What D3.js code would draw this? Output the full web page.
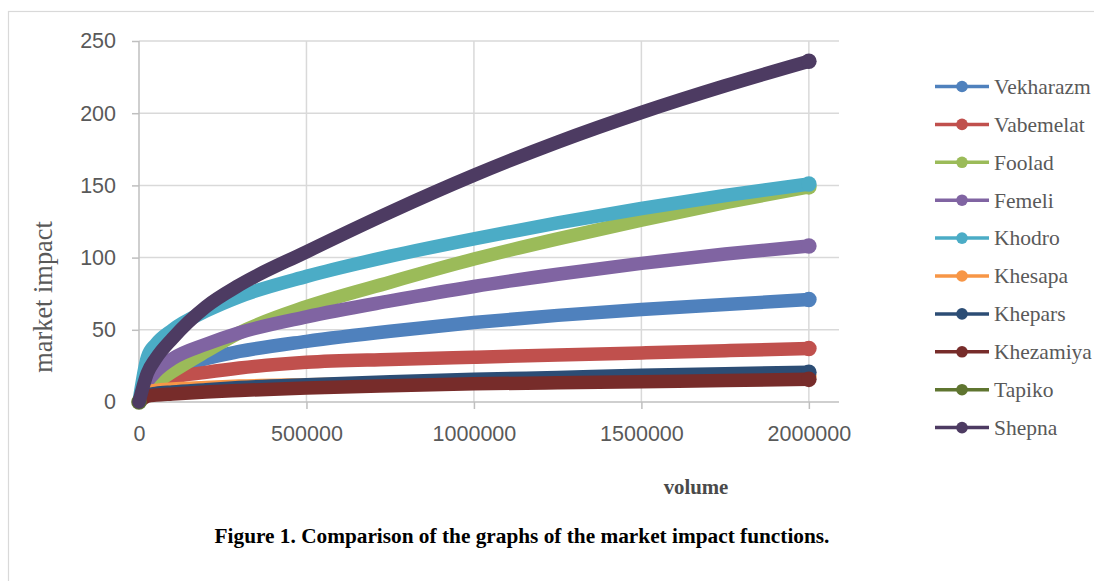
<!DOCTYPE html>
<html>
<head>
<meta charset="utf-8">
<script src="https://cdn.jsdelivr.net/npm/d3@7"></script>
<style>
  body { margin: 0; background: #ffffff; }
  svg { display: block; }
</style>
</head>
<body>
<svg id="chart" width="1094" height="581"></svg>
<script>
// Trade volume at which each impact function is sampled
const volume = [0, 25000, 50000, 100000, 200000, 300000, 500000, 750000, 1000000, 1250000, 1500000, 1750000, 2000000];

// Market impact per company, one array per series (null = no value plotted)
const vekharazm = [0, 10, 15, 22, 30, 35, 42, 49, 55, 60, 64, 67.5, 71];
const vabemelat = [0, 9, 13, 17, 20.5, 23.5, 27.5, 29.5, 31, 32.5, 34, 35.5, 37];
const foolad    = [0, 8, 13, 21, 35, 48, 66, 83, 99, 113, 126, 138, 149];
const femeli    = [0, 14, 21, 30, 40, 48, 59, 70, 80, 88.5, 96, 102.5, 108];
const khodro    = [0, 31, 40, 50, 63, 73, 87, 101, 113, 124, 134, 143, 151];
const khesapa   = [0, 7, 8, 9, 10, 11, 12, 13, 14, 15, 16, 17, 18];
const khepars   = [0, 5, 6, 7, 8.5, 10, 12, 14, 15.7, 17, 18.5, 19.6, 20.6];
const khezamiya = [0, 4, 4.8, 5.6, 7, 8, 9.7, 11.3, 12.6, 13.3, 14, 14.9, 15.7];
const tapiko    = [0, null, null, null, null, null, null, null, null, null, null, null, null];
const shepna    = [0, 20, 30, 44, 66, 81, 104, 131.5, 157, 180, 200.5, 219, 236];

const seriesNames = ["Vekharazm", "Vabemelat", "Foolad", "Femeli", "Khodro",
                     "Khesapa", "Khepars", "Khezamiya", "Tapiko", "Shepna"];
const seriesValues = [vekharazm, vabemelat, foolad, femeli, khodro,
                      khesapa, khepars, khezamiya, tapiko, shepna];
const seriesColors = ["#4f81bd", "#c0504d", "#9bbb59", "#8064a2", "#4bacc6",
                      "#f79646", "#2c4d75", "#772c2a", "#5f7530", "#4d3b62"];

const xTicks = [0, 500000, 1000000, 1500000, 2000000];
const yTicks = [0, 50, 100, 150, 200, 250];

const xAxisTitle = "volume";
const yAxisTitle = "market impact";
const caption = "Figure 1. Comparison of the graphs of the market impact functions.";

const svg = d3.select("#chart");
const gridColor = "#d9d9d9";
const axisColor = "#bfbfbf";
const labelColor = "#595959";
const serif = "'Liberation Serif', 'Times New Roman', serif";

// Outer frame
svg.append("rect")
  .attr("x", 8.5).attr("y", 11.5)
  .attr("width", 1100).attr("height", 600)
  .attr("fill", "#ffffff")
  .attr("stroke", gridColor).attr("stroke-width", 1.2);

const plot = { left: 139, right: 839, top: 41, bottom: 402 };

const x = d3.scaleLinear().domain([0, 2090000]).range([plot.left, plot.right]);
const y = d3.scaleLinear().domain([0, 250]).range([plot.bottom, plot.top]);

// Gridlines
const grid = svg.append("g");
grid.selectAll("line.h").data(yTicks.filter(d => d > 0)).join("line")
  .attr("x1", plot.left).attr("x2", plot.right)
  .attr("y1", d => y(d)).attr("y2", d => y(d))
  .attr("stroke", gridColor).attr("stroke-width", 1.5);
grid.selectAll("line.v").data(xTicks.filter(d => d > 0)).join("line")
  .attr("x1", d => x(d)).attr("x2", d => x(d))
  .attr("y1", plot.top).attr("y2", plot.bottom)
  .attr("stroke", gridColor).attr("stroke-width", 1.5);

// Axes
const yAxis = svg.append("g")
  .attr("transform", `translate(${plot.left},0)`)
  .call(d3.axisLeft(y).tickValues(yTicks).tickSize(7).tickPadding(16).tickFormat(d3.format("d")));
const xAxis = svg.append("g")
  .attr("transform", `translate(0,${plot.bottom})`)
  .call(d3.axisBottom(x).tickValues(xTicks).tickSize(7).tickPadding(17).tickFormat(d3.format("d")));

[xAxis, yAxis].forEach(g => {
  g.select(".domain").remove();
  g.selectAll(".tick line").attr("stroke", axisColor).attr("stroke-width", 1.5);
  g.selectAll(".tick text")
    .attr("fill", labelColor)
    .style("font-family", "'Liberation Sans', Arial, sans-serif")
    .style("font-size", "21.5px");
});
svg.append("line")
  .attr("x1", plot.left).attr("x2", plot.left)
  .attr("y1", plot.top).attr("y2", plot.bottom)
  .attr("stroke", axisColor).attr("stroke-width", 1.5);
svg.append("line")
  .attr("x1", plot.left).attr("x2", plot.right)
  .attr("y1", plot.bottom).attr("y2", plot.bottom)
  .attr("stroke", axisColor).attr("stroke-width", 1.5);

// Series lines: heavy strokes with a round marker on the final plotted point
const line = d3.line()
  .defined(d => d !== null)
  .x((d, i) => x(volume[i]))
  .y(d => y(d))
  .curve(d3.curveMonotoneX);

const series = svg.append("g").selectAll("g")
  .data(seriesValues.map((vals, i) => {
    let last = vals.length - 1;
    while (last > 0 && vals[last] === null) last--;
    return { name: seriesNames[i], vals, color: seriesColors[i], last };
  }))
  .join("g");

series.append("path")
  .attr("d", d => line(d.vals))
  .attr("fill", "none")
  .attr("stroke", d => d.color)
  .attr("stroke-width", 13.5)
  .attr("stroke-linecap", "round")
  .attr("stroke-linejoin", "round");

series.append("circle")
  .attr("cx", d => x(volume[d.last]))
  .attr("cy", d => y(d.vals[d.last]))
  .attr("r", 7.8)
  .attr("fill", d => d.color);

// Legend
const legend = svg.append("g").selectAll("g")
  .data(seriesNames)
  .join("g")
  .attr("transform", (d, i) => `translate(0,${86.5 + i * 37.9})`);
legend.append("line")
  .attr("x1", 935).attr("x2", 989).attr("y1", 0).attr("y2", 0)
  .attr("stroke", (d, i) => seriesColors[i]).attr("stroke-width", 3.5);
legend.append("circle")
  .attr("cx", 962).attr("cy", 0).attr("r", 5.8)
  .attr("fill", (d, i) => seriesColors[i]);
legend.append("text")
  .attr("x", 994).attr("y", 7.3)
  .attr("fill", labelColor)
  .style("font-family", serif)
  .style("font-size", "21.5px")
  .text(d => d);

// Axis titles and caption
svg.append("text")
  .attr("transform", "translate(52,297) rotate(-90)")
  .attr("text-anchor", "middle")
  .attr("fill", labelColor)
  .style("font-family", serif)
  .style("font-size", "26.4px")
  .text(yAxisTitle);

svg.append("text")
  .attr("x", 696).attr("y", 494)
  .attr("text-anchor", "middle")
  .attr("fill", "#4a4a4a")
  .style("font-family", serif)
  .style("font-weight", "bold")
  .style("font-size", "20.8px")
  .text(xAxisTitle);

svg.append("text")
  .attr("x", 522).attr("y", 543)
  .attr("text-anchor", "middle")
  .attr("fill", "#000000")
  .style("font-family", serif)
  .style("font-weight", "bold")
  .style("font-size", "21.3px")
  .text(caption);
</script>
</body>
</html>
